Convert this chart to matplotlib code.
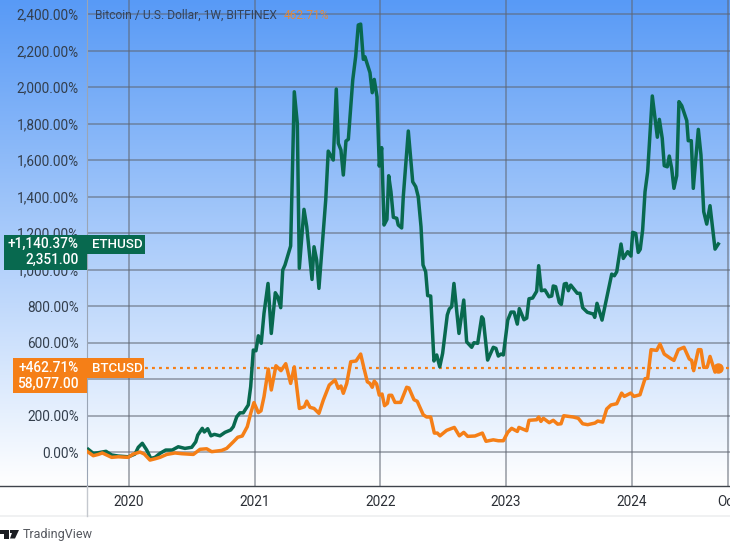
import numpy as np
import matplotlib
matplotlib.use('Agg')
import matplotlib.pyplot as plt
from matplotlib.patches import Rectangle, Polygon

# percent change since start
eth_x = [2019.676, 2019.716, 2019.753, 2019.817, 2019.862, 2019.915, 2019.994, 2020.048, 2020.074, 2020.106,
         2020.141, 2020.173, 2020.207, 2020.247, 2020.292, 2020.344, 2020.392, 2020.445, 2020.499, 2020.531,
         2020.547, 2020.583, 2020.599, 2020.626, 2020.652, 2020.679, 2020.724, 2020.764, 2020.809, 2020.830,
         2020.857, 2020.883, 2020.909, 2020.949, 2020.968, 2020.989, 2021.010, 2021.029, 2021.052, 2021.074,
         2021.106, 2021.132, 2021.164, 2021.183, 2021.207, 2021.223, 2021.241, 2021.286, 2021.315, 2021.339,
         2021.355, 2021.392, 2021.414, 2021.456, 2021.472, 2021.493, 2021.511, 2021.565, 2021.585, 2021.625,
         2021.649, 2021.665, 2021.686, 2021.705, 2021.726, 2021.745, 2021.780, 2021.803, 2021.824, 2021.843,
         2021.864, 2021.877, 2021.917, 2021.935, 2021.951, 2021.973, 2021.991, 2022.010, 2022.029, 2022.052,
         2022.066, 2022.084, 2022.103, 2022.130, 2022.142, 2022.169, 2022.182, 2022.222, 2022.257, 2022.281,
         2022.301, 2022.323, 2022.339, 2022.360, 2022.376, 2022.400, 2022.426, 2022.448, 2022.472, 2022.495,
         2022.532, 2022.548, 2022.567, 2022.585, 2022.625, 2022.663, 2022.686, 2022.726, 2022.744, 2022.774,
         2022.806, 2022.818, 2022.853, 2022.898, 2022.919, 2022.938, 2022.959, 2022.978, 2023.013, 2023.039,
         2023.063, 2023.089, 2023.105, 2023.142, 2023.164, 2023.182, 2023.211, 2023.243, 2023.259, 2023.280,
         2023.309, 2023.341, 2023.363, 2023.375, 2023.394, 2023.423, 2023.439, 2023.463, 2023.479, 2023.495,
         2023.514, 2023.566, 2023.588, 2023.609, 2023.646, 2023.694, 2023.705, 2023.723, 2023.763, 2023.840,
         2023.861, 2023.880, 2023.914, 2023.932, 2023.967, 2023.993, 2024.007, 2024.031, 2024.051, 2024.067,
         2024.086, 2024.105, 2024.126, 2024.163, 2024.203, 2024.219, 2024.242, 2024.258, 2024.282, 2024.298,
         2024.317, 2024.335, 2024.357, 2024.375, 2024.397, 2024.437, 2024.449, 2024.473, 2024.489, 2024.529,
         2024.550, 2024.572, 2024.596, 2024.622, 2024.662, 2024.688]
eth_y = [15, -7, -4, 4, -16, -22, -26, -11, 26, 48,
         11, -35, -29, -7, 11, 11, 29, 20, 26, 56,
         93, 130, 110, 128, 89, 97, 89, 108, 121, 139,
         193, 215, 215, 258, 358, 559, 555, 637, 596, 760,
         924, 650, 873, 851, 791, 997, 1025, 1129, 1974, 1801,
         1007, 1330, 1235, 946, 1125, 1052, 897, 1381, 1649, 1600,
         1989, 1692, 1655, 1518, 1704, 1714, 2039, 2166, 2340, 2345,
         2152, 2166, 2079, 1969, 2042, 1947, 1567, 1668, 1244, 1275,
         1514, 1426, 1286, 1281, 1244, 1228, 1399, 1759, 1481, 1454,
         1399, 1235, 1025, 988, 857, 855, 499, 532, 467, 541,
         751, 784, 796, 924, 650, 833, 604, 574, 599, 596,
         741, 730, 504, 574, 568, 526, 537, 532, 723, 767,
         767, 701, 786, 725, 734, 840, 844, 881, 1021, 884,
         888, 851, 855, 910, 906, 820, 809, 921, 924, 884,
         915, 870, 870, 791, 766, 756, 738, 815, 723, 975,
         966, 988, 1140, 1061, 1098, 1074, 1204, 1198, 1094, 1111,
         1217, 1426, 1536, 1951, 1725, 1823, 1719, 1569, 1563, 1622,
         1555, 1445, 1514, 1920, 1898, 1816, 1706, 1706, 1445, 1768,
         1628, 1317, 1249, 1350, 1112, 1140]

btc_x = [2019.671, 2019.716, 2019.756, 2019.788, 2019.862, 2019.915, 2019.994, 2020.034, 2020.088, 2020.122,
         2020.167, 2020.207, 2020.247, 2020.300, 2020.366, 2020.419, 2020.512, 2020.565, 2020.618, 2020.658,
         2020.737, 2020.777, 2020.830, 2020.865, 2020.901, 2020.941, 2020.968, 2020.994, 2021.029, 2021.050,
         2021.074, 2021.108, 2021.132, 2021.169, 2021.209, 2021.247, 2021.286, 2021.315, 2021.355, 2021.395,
         2021.414, 2021.440, 2021.472, 2021.511, 2021.546, 2021.593, 2021.639, 2021.665, 2021.686, 2021.705,
         2021.732, 2021.764, 2021.806, 2021.843, 2021.869, 2021.896, 2021.917, 2021.935, 2021.951, 2021.970,
         2021.991, 2022.013, 2022.033, 2022.056, 2022.068, 2022.090, 2022.116, 2022.161, 2022.209, 2022.227,
         2022.267, 2022.293, 2022.341, 2022.368, 2022.400, 2022.429, 2022.453, 2022.474, 2022.527, 2022.588,
         2022.628, 2022.663, 2022.694, 2022.752, 2022.811, 2022.840, 2022.898, 2022.938, 2022.978, 2023.013,
         2023.044, 2023.089, 2023.102, 2023.164, 2023.182, 2023.243, 2023.259, 2023.277, 2023.296, 2023.343,
         2023.375, 2023.410, 2023.437, 2023.458, 2023.534, 2023.574, 2023.609, 2023.649, 2023.707, 2023.729,
         2023.768, 2023.800, 2023.834, 2023.880, 2023.919, 2023.940, 2023.991, 2024.017, 2024.065, 2024.105,
         2024.126, 2024.153, 2024.198, 2024.224, 2024.258, 2024.304, 2024.335, 2024.370, 2024.415, 2024.457,
         2024.476, 2024.492, 2024.529, 2024.550, 2024.572, 2024.600, 2024.622, 2024.662, 2024.688]
btc_y = [2, -20, -13, -5, -29, -26, -29, -11, 0, -11,
         -44, -37, -29, -13, -5, -9, -13, 15, 18, 2,
         9, 20, 56, 81, 88, 139, 212, 271, 216, 226,
         303, 455, 340, 473, 446, 484, 376, 467, 239, 248,
         279, 245, 239, 212, 285, 367, 395, 349, 362, 322,
         376, 495, 499, 537, 460, 385, 376, 355, 389, 373,
         312, 318, 254, 267, 311, 311, 272, 272, 355, 351,
         287, 278, 204, 192, 192, 104, 104, 89, 119, 135,
         89, 108, 86, 88, 104, 59, 67, 62, 62, 108,
         130, 113, 135, 117, 174, 177, 192, 168, 185, 161,
         174, 153, 155, 199, 192, 185, 155, 150, 159, 170,
         164, 236, 258, 265, 323, 305, 323, 305, 314, 402,
         404, 561, 557, 592, 537, 515, 502, 561, 574, 510,
         502, 446, 561, 561, 464, 466, 524, 438, 460]

y_ticks = [0, 200, 400, 600, 800, 1000, 1200, 1400, 1600, 1800, 2000, 2200, 2400]
y_labels = ['0.00%', '200.00%', '400.00%', '600.00%', '800.00%', '1,000.00%', '1,200.00%',
            '1,400.00%', '1,600.00%', '1,800.00%', '2,000.00%', '2,200.00%', '2,400.00%']
x_ticks = [2020, 2021, 2022, 2023, 2024, 2024.765]
x_labels = ['2020', '2021', '2022', '2023', '2024', 'Oct']
btc_last = 462.71

GREEN = '#08694f'
ORANGE = '#f57f17'
TXT = '#333e4c'

plt.rcParams['font.family'] = ['Roboto', 'DejaVu Sans']
W, H = 730, 546
fig = plt.figure(figsize=(W / 100, H / 100), dpi=100, facecolor='white')

# blue to white background behind both the scale and the plot
bg = fig.add_axes([0, 1 - 486 / H, 1, 486 / H], zorder=0)
top = np.array([0x58, 0x9a, 0xf6]) / 255
grad = np.linspace(0, 1, 486)[:, None, None] * (1 - top) + top
bg.imshow(grad, aspect='auto', interpolation='bilinear')
bg.axis('off')

ax = fig.add_axes([87 / W, 1 - 486 / H, (W - 87) / W, 486 / H], zorder=1)
ax.patch.set_alpha(0)
ax.set_xlim(2019.666, 2024.781)
ax.set_ylim(-186, 2477)
ax.set_yticks(y_ticks, y_labels)
ax.set_xticks(x_ticks, x_labels)
ax.tick_params(axis='y', length=0, pad=5.8, labelsize=9.8, labelcolor=TXT)
ax.tick_params(axis='x', length=0, pad=6.5, labelsize=9.8, labelcolor='#2b2f36')
ax.grid(True, color='#5f6672', alpha=0.65, lw=1.1)
ax.set_axisbelow(True)
for s in ['top', 'right']:
    ax.spines[s].set_visible(False)
ax.spines['left'].set_color('#9aa5b5')
ax.spines['bottom'].set_visible(False)

ax.axhline(btc_last, xmin=58 / (W - 87), color=ORANGE, lw=1.6, ls=(0, (1.3, 1.85)), zorder=2)
ax.plot(eth_x, eth_y, color=GREEN, lw=2.5, solid_joinstyle='round', zorder=3)
ax.plot(btc_x, btc_y, color=ORANGE, lw=2.5, solid_joinstyle='round', zorder=4)
ax.plot(btc_x[-1], btc_y[-1], 'o', color=ORANGE, ms=6.5, zorder=5)

# pixel overlay for the labels and footer
ov = fig.add_axes([0, 0, 1, 1], zorder=2)
ov.set_xlim(0, W)
ov.set_ylim(H, 0)
ov.axis('off')
ov.plot([0, W], [486, 486], color='#3f444c', lw=1)
ov.plot([87, 87], [486, 516], color='#c4c8ce', lw=1)
ov.add_patch(Rectangle((0, 515), W, 2, color='#f0f1f2', lw=0))

ov.add_patch(Rectangle((4, 235), 83, 34.5, color=GREEN, lw=0))
ov.add_patch(Rectangle((87, 235), 58, 18.5, color=GREEN, lw=0))
ov.text(79, 244, '+1,140.37%', color='white', ha='right', va='center', fontsize=9.8, fontweight='medium')
ov.text(79, 259.5, '2,351.00', color='white', ha='right', va='center', fontsize=9.8, fontweight='medium')
ov.text(92, 244, 'ETHUSD', color='white', ha='left', va='center', fontsize=9.6, fontweight='medium')

ov.add_patch(Rectangle((13, 358), 74, 35, color=ORANGE, lw=0))
ov.add_patch(Rectangle((87, 358), 57, 19.5, color=ORANGE, lw=0))
ov.text(79, 368, '+462.71%', color='white', ha='right', va='center', fontsize=9.8, fontweight='medium')
ov.text(79, 384, '58,077.00', color='white', ha='right', va='center', fontsize=9.8, fontweight='medium')
ov.text(92, 368, 'BTCUSD', color='white', ha='left', va='center', fontsize=9.6, fontweight='medium')

ov.text(95, 15.5, 'Bitcoin / U.S. Dollar, 1W, BITFINEX', color='#33435c', ha='left', va='center', fontsize=8.65)
ov.text(284, 15.5, '462.71%', color='#e08a3c', ha='left', va='center', fontsize=8.65)

# TradingView logo
ov.add_patch(Polygon([(0, 530), (8.5, 530), (8.5, 538.5), (4, 538.5), (4, 533.5), (0, 533.5)], color='#1b1d22', lw=0))
ov.add_patch(Rectangle((9.5, 530), 3, 3.2, color='#1b1d22', lw=0))
ov.add_patch(Polygon([(13, 530), (19, 530), (15, 538.5), (10, 538.5)], color='#1b1d22', lw=0))
ov.text(23, 534.5, 'TradingView', color='#55585f', ha='left', va='center', fontsize=9)

fig.savefig('out.png', dpi=100)
